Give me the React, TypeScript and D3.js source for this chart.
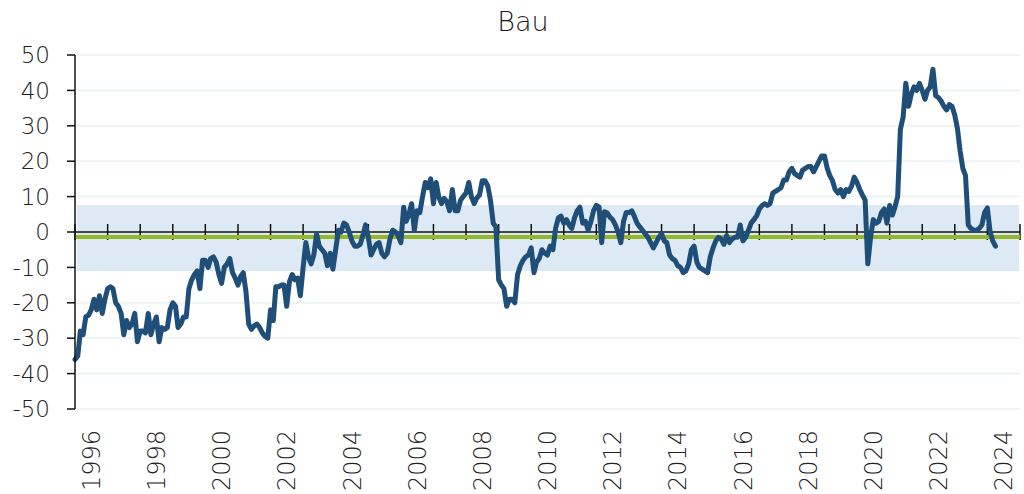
import * as d3 from 'd3';

// Bau sentiment, monthly values from Jan 1996
const startYear = 1996;
const endYear = 2025; // axis runs to the end of 2024
const bauValues: number[] = [
  // 1996
  -36, -35, -28, -29, -24, -23.5, -22, -19, -22, -18, -23, -19,
  // 1997
  -16, -15.5, -16, -20, -21, -23, -29, -25, -27, -26, -23, -31,
  // 1998
  -28, -28, -28.5, -23, -29, -26, -24, -31, -27, -27.5, -27, -22,
  // 1999
  -20, -21, -27, -26, -24, -24, -16, -13.5, -12, -11, -16, -8,
  // 2000
  -8, -10, -7.5, -7, -8.5, -12, -14.5, -10, -9, -7.5, -11.5, -13,
  // 2001
  -15, -12.5, -11.5, -17, -26, -27.5, -26.5, -26, -27, -28.5, -29.5, -30,
  // 2002
  -22, -25, -15.5, -15.5, -15, -15, -21, -14, -12, -13.5, -13, -18,
  // 2003
  -10, -3, -7, -9, -6.5, -0.5, -4, -5, -6, -9.5, -6, -10.5,
  // 2004
  -5, 0.5, 0, 2.5, 2, 0, -2.5, -4, -4, -3.5, -1, 2,
  // 2005
  -1.5, -6.5, -5, -3.5, -3, -6, -7, -6, -2, 0.5, 0, -1,
  // 2006
  -3, 7, 3, 5, 8, 0.5, 6, 5.5, 10, 14, 12.5, 15,
  // 2007
  8, 14, 10, 8, 9.5, 8.5, 6, 12, 6, 6, 9, 10,
  // 2008
  11, 14, 10, 8, 9.6, 10.5, 14.5, 14.5, 13, 9, 2.5, 1.5,
  // 2009
  -13.5, -15, -16, -21, -19, -19, -20, -12, -9.5, -8, -7, -6.5,
  // 2010
  -4.5, -11.5, -8.5, -7.5, -5, -6, -6.5, -4, -5, 1, 4, 4.5,
  // 2011
  2.5, 3.5, 2, 1, 4, 6, 7, 2.5, 3, 0.5, 3, 6,
  // 2012
  7.5, 7, -3, 5.7, 5.4, 4.2, 3.5, 2, 0, -3, 3, 5.5,
  // 2013
  5.5, 6, 4.5, 2.5, 1.5, 0.5, -0.5, -1.5, -3, -4.5, -3, -1.5,
  // 2014
  -0.5, -2.5, -3, -6.5, -7.5, -8, -9.5, -10, -11.5, -11, -9, -5,
  // 2015
  -4, -8.5, -10, -10.5, -11, -11.5, -7, -4.5, -2.5, -1.5, -2, -3.5,
  // 2016
  -1, -3, -2, -1.5, -1.5, 2, -2.5, -1.5, 0.5, 2.5, 3.5, 4.5,
  // 2017
  6.5, 7.5, 8, 7.5, 8, 11, 11.5, 12, 12.5, 14.7, 14.7, 17,
  // 2018
  18, 16.5, 16, 15.5, 17.5, 18, 18.5, 18.5, 17, 18.5, 20, 21.5,
  // 2019
  21.5, 18, 16, 14.5, 12, 11, 12, 10, 12, 11.5, 13, 15.5,
  // 2020
  14, 12, 10.5, 9, -9, -1.5, 3.5, 2.5, 3, 5.5, 6.5, 2.5,
  // 2021
  7.5, 4.8, 7, 10, 29, 32.5, 42, 35.5, 39, 41, 40, 42,
  // 2022
  40, 37.5, 40, 41, 46, 38.5, 38, 37, 35.5, 34.5, 36, 35.5,
  // 2023
  33, 29, 23, 18, 16, 2, 1, 0.5, 0.5, 1, 2, 5.5,
  // 2024
  6.8, 0, -2.5, -4,
];

const yTicks = [-50, -40, -30, -20, -10, 0, 10, 20, 30, 40, 50];
const labelYears = d3.range(1996, 2025, 2);
const bandRange: [number, number] = [-11, 7.6];
const meanLevel = -1.4;

const W = 1024;
const H = 494;
const margin = { top: 55, right: 4, bottom: 85, left: 75 };

export default function App() {
  const x = d3
    .scaleTime()
    .domain([new Date(startYear, 0, 1), new Date(endYear, 0, 1)])
    .range([margin.left, W - margin.right]);
  const y = d3.scaleLinear().domain([-50, 50]).range([H - margin.bottom, margin.top]);

  const points = bauValues.map((v, i) => ({ date: new Date(startYear, i, 1), v }));
  const line = d3
    .line<{ date: Date; v: number }>()
    .x((d) => x(d.date))
    .y((d) => y(d.v));

  const yearTicks = d3.range(startYear, endYear + 1).map((yr) => new Date(yr, 0, 1));
  const x0 = margin.left;
  const x1 = W - margin.right;
  const font = '"DejaVu Sans", sans-serif';

  return (
    <svg
      width={W}
      height={H}
      style={{ position: 'absolute', left: 0, top: 0, background: '#fff' }}
      fontFamily={font}
      fontWeight={300}
    >
      <text x={523} y={31} textAnchor="middle" fontSize={27} fill="#1a1a1a">
        Bau
      </text>

      {/* gridlines */}
      {yTicks.map((t) => (
        <line key={'g' + t} x1={x0 + 2} x2={x1} y1={y(t)} y2={y(t)} stroke="#eef3f3" strokeWidth={2} />
      ))}

      {/* normal range band */}
      <rect
        x={x0 + 2}
        width={x1 - x0 - 3}
        y={y(bandRange[1])}
        height={y(bandRange[0]) - y(bandRange[1])}
        fill="#dde9f5"
      />

      {/* zero line with yearly ticks */}
      <line x1={x0} x2={x1} y1={y(0)} y2={y(0)} stroke="#111" strokeWidth={1.5} />
      {yearTicks.map((d, i) => (
        <line key={'t' + i} x1={x(d)} x2={x(d)} y1={y(0) - 8} y2={y(0) + 8} stroke="#111" strokeWidth={1.5} />
      ))}

      {/* long-run average */}
      <line x1={x0} x2={x1} y1={y(meanLevel)} y2={y(meanLevel)} stroke="#95b82a" strokeWidth={4} />

      {/* series */}
      <path d={line(points) ?? ''} fill="none" stroke="#1f4e78" strokeWidth={5} strokeLinejoin="round" strokeLinecap="round" />

      {/* y axis */}
      <line x1={x0} x2={x0} y1={y(50)} y2={y(-50)} stroke="#111" strokeWidth={1.5} />
      {yTicks.map((t) => (
        <g key={'y' + t}>
          <line x1={x0 - 8} x2={x0} y1={y(t)} y2={y(t)} stroke="#111" strokeWidth={1.5} />
          <text x={x0 - 25} y={y(t)} dy="0.36em" textAnchor="end" fontSize={23} fill="#222">
            {t}
          </text>
        </g>
      ))}

      {/* x labels */}
      {labelYears.map((yr) => {
        const cx = (x(new Date(yr, 0, 1)) + x(new Date(yr + 1, 0, 1))) / 2;
        return (
          <text
            key={'x' + yr}
            transform={`translate(${cx},${H - margin.bottom + 21}) rotate(-90)`}
            dy="0.36em"
            textAnchor="end"
            fontSize={24}
            fill="#222"
          >
            {yr}
          </text>
        );
      })}
    </svg>
  );
}
